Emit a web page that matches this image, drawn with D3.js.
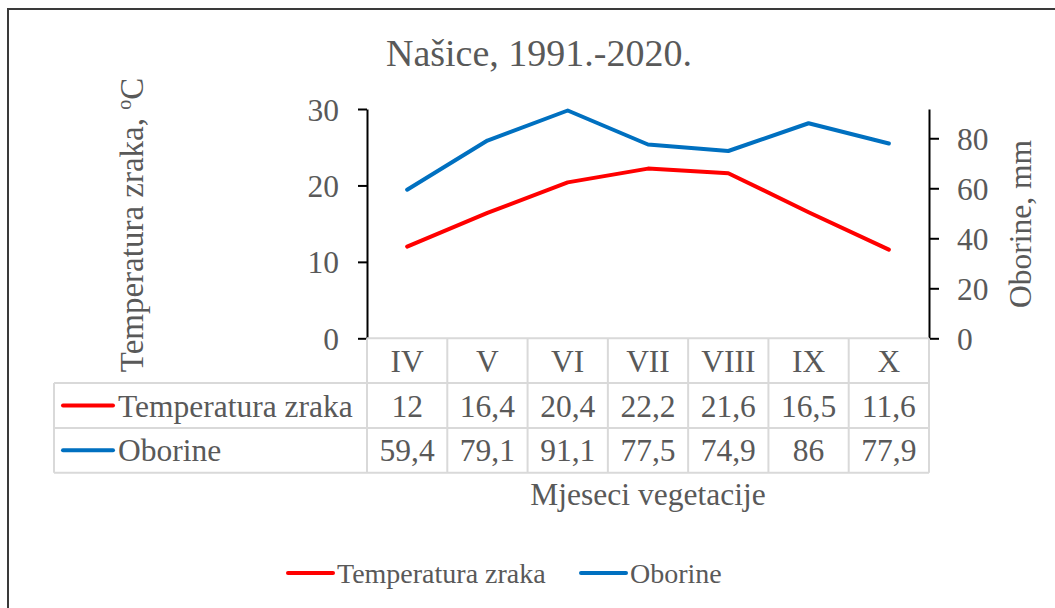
<!DOCTYPE html>
<html>
<head>
  <meta charset="utf-8">
  <title>Našice, 1991.-2020.</title>
  <script src="https://d3js.org/d3.v7.min.js"></script>
  <style>
    body { margin: 0; background: #fff; }
    svg text { font-family: "Liberation Serif", "Tinos", "DejaVu Serif", serif; fill: #595959; }
  </style>
</head>
<body>
<div id="chart"></div>
<script>
  // podaci
  let months = ['IV', 'V', 'VI', 'VII', 'VIII', 'IX', 'X'];
  let temperatura = [12, 16.4, 20.4, 22.2, 21.6, 16.5, 11.6];
  let oborine = [59.4, 79.1, 91.1, 77.5, 74.9, 86, 77.9];
  let leftTicks = [0, 10, 20, 30];
  let rightTicks = [0, 20, 40, 60, 80];
  let rightMax = 91.7;

  let series = [
    {name: 'Temperatura zraka', values: temperatura, color: '#ff0000', axis: 'left'},
    {name: 'Oborine', values: oborine, color: '#0070c0', axis: 'right'}
  ];

  let W = 1055, H = 608;
  let plot = {left: 367, right: 929, top: 109, bottom: 338.3};
  let rowH = 44.8;
  let tableLeft = 54;
  let fs = 31.5;
  let serif = '"Liberation Serif", "Tinos", "DejaVu Serif", serif';

  let svg = d3.select('#chart').append('svg')
      .attr('width', W)
      .attr('height', H)
      .attr('font-family', serif);

  // okvir
  svg.append('rect')
     .attr('x', 8).attr('y', 9)
     .attr('width', 1100).attr('height', 700)
     .attr('fill', 'none')
     .attr('stroke', '#3a3a3a')
     .attr('stroke-width', 2);

  let x = d3.scaleBand().domain(months).range([plot.left, plot.right]);
  let yL = d3.scaleLinear().domain([0, 30]).range([plot.bottom, plot.top]);
  let yR = d3.scaleLinear().domain([0, rightMax]).range([plot.bottom, plot.top]);

  // naslov
  svg.append('text')
     .attr('x', 539).attr('y', 66)
     .attr('text-anchor', 'middle')
     .attr('font-size', 38)
     .text('Našice, 1991.-2020.');

  // osi
  function styleAxis(g) {
    g.attr('font-family', serif);
    g.select('.domain').attr('stroke', '#000').attr('stroke-width', 2);
    g.selectAll('.tick line').attr('stroke', '#000').attr('stroke-width', 2);
    g.selectAll('.tick text')
     .attr('font-size', fs)
     .attr('fill', '#595959')
     .attr('dy', '0.35em');
  }

  svg.append('g')
     .attr('transform', `translate(${plot.left},0)`)
     .call(d3.axisLeft(yL).tickValues(leftTicks).tickSize(9).tickSizeOuter(0).tickPadding(19))
     .call(styleAxis);

  svg.append('g')
     .attr('transform', `translate(${plot.right},0)`)
     .call(d3.axisRight(yR).tickValues(rightTicks).tickSize(10).tickSizeOuter(0).tickPadding(18))
     .call(styleAxis);

  // naslovi osi
  let lt = svg.append('text')
     .attr('transform', `translate(143,225) rotate(-90)`)
     .attr('text-anchor', 'middle')
     .attr('font-size', 33);
  lt.append('tspan').text('Temperatura zraka, ');
  lt.append('tspan').attr('font-size', 20).attr('dy', -12).text('o');
  lt.append('tspan').attr('dy', 12).text('C');

  svg.append('text')
     .attr('transform', `translate(1031,224) rotate(-90)`)
     .attr('text-anchor', 'middle')
     .attr('font-size', fs)
     .text('Oborine, mm');

  // linije
  let cx = m => x(m) + x.bandwidth() / 2;
  series.forEach(s => {
    let y = s.axis === 'left' ? yL : yR;
    let line = d3.line()
        .x((v, i) => cx(months[i]))
        .y(v => y(v));
    svg.append('path')
       .datum(s.values)
       .attr('d', line)
       .attr('fill', 'none')
       .attr('stroke', s.color)
       .attr('stroke-width', 4)
       .attr('stroke-linejoin', 'round')
       .attr('stroke-linecap', 'round');
  });

  // tablica podataka
  let grid = svg.append('g').attr('stroke', '#d9d9d9').attr('stroke-width', 2);
  let r0 = plot.bottom, r1 = r0 + rowH, r2 = r1 + rowH, r3 = r2 + rowH;
  grid.append('line').attr('x1', plot.left).attr('x2', plot.right).attr('y1', r0).attr('y2', r0);
  [r1, r2, r3].forEach(yy => {
    grid.append('line').attr('x1', tableLeft).attr('x2', plot.right).attr('y1', yy).attr('y2', yy);
  });
  grid.append('line').attr('x1', tableLeft).attr('x2', tableLeft).attr('y1', r1).attr('y2', r3);
  months.forEach(m => {
    grid.append('line').attr('x1', x(m)).attr('x2', x(m)).attr('y1', r0).attr('y2', r3);
  });
  grid.append('line').attr('x1', plot.right).attr('x2', plot.right).attr('y1', r0).attr('y2', r3);

  svg.selectAll('.cat')
     .data(months)
     .enter().append('text')
     .attr('x', m => cx(m))
     .attr('y', (r0 + r1) / 2)
     .attr('dy', '0.35em')
     .attr('text-anchor', 'middle')
     .attr('font-size', fs)
     .text(m => m);

  let fmt = v => String(v).replace('.', ',');
  series.forEach((s, si) => {
    let yc = (si === 0 ? (r1 + r2) / 2 : (r2 + r3) / 2);
    svg.append('line')
       .attr('x1', 63).attr('x2', 113)
       .attr('y1', yc).attr('y2', yc)
       .attr('stroke', s.color).attr('stroke-width', 4)
       .attr('stroke-linecap', 'round');
    svg.append('text')
       .attr('x', 118).attr('y', yc).attr('dy', '0.35em')
       .attr('font-size', fs)
       .text(s.name);
    svg.selectAll('.v' + si)
       .data(s.values)
       .enter().append('text')
       .attr('x', (v, i) => cx(months[i]))
       .attr('y', yc).attr('dy', '0.35em')
       .attr('text-anchor', 'middle')
       .attr('font-size', fs)
       .text(v => fmt(v));
  });

  // naslov kategorija
  svg.append('text')
     .attr('x', 648).attr('y', 505)
     .attr('text-anchor', 'middle')
     .attr('font-size', fs)
     .text('Mjeseci vegetacije');

  // legenda
  let legX = [288, 581];
  series.forEach((s, i) => {
    svg.append('line')
       .attr('x1', legX[i]).attr('x2', legX[i] + 45)
       .attr('y1', 573).attr('y2', 573)
       .attr('stroke', s.color).attr('stroke-width', 4)
       .attr('stroke-linecap', 'round');
    svg.append('text')
       .attr('x', legX[i] + 49).attr('y', 573).attr('dy', '0.35em')
       .attr('font-size', 28)
       .text(s.name);
  });
</script>
</body>
</html>
